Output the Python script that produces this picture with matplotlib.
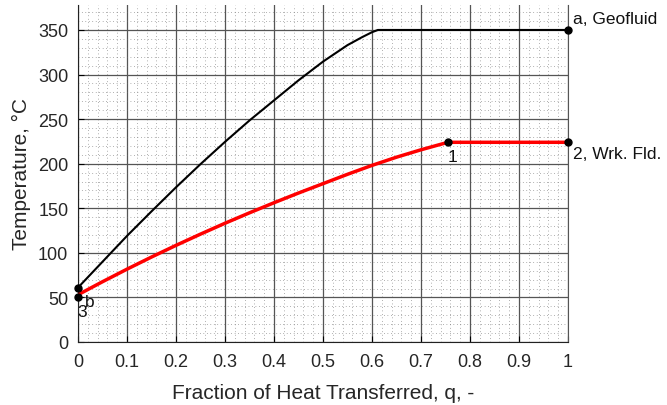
import matplotlib
matplotlib.use("Agg")
import matplotlib.pyplot as plt
from matplotlib.ticker import MultipleLocator

# Geofluid (hot side) curve
q_geo = [0.0, 0.05, 0.1, 0.15, 0.2, 0.25, 0.3, 0.35, 0.4, 0.45, 0.5, 0.55, 0.58, 0.6, 0.612, 1.0]
T_geo = [61, 90, 119, 146.5, 173.5, 199.5, 224.5, 248.5, 271, 293.5, 314.5, 333, 342, 347.5, 350, 350]

# Working fluid curve
q_wf = [0.0, 0.05, 0.1, 0.15, 0.2, 0.25, 0.3, 0.35, 0.4, 0.45, 0.5, 0.55, 0.6, 0.65, 0.7, 0.755, 1.0]
T_wf = [53, 67.6, 81.7, 95.3, 108.4, 121, 133.2, 144.9, 156.2, 167.1, 177.6, 188.1, 198.1, 207.3, 215.6, 224, 224]

# State points
pt_q = [0.0, 0.0, 0.755, 1.0, 1.0]
pt_T = [61, 51, 224, 224, 350]
pt_labels = ["b", "3", "1", "2, Wrk. Fld.", "a, Geofluid"]

xticks = [0, 0.1, 0.2, 0.3, 0.4, 0.5, 0.6, 0.7, 0.8, 0.9, 1]
xticklabels = ["0", "0.1", "0.2", "0.3", "0.4", "0.5", "0.6", "0.7", "0.8", "0.9", "1"]
yticks = [0, 50, 100, 150, 200, 250, 300, 350]

plt.rcParams['font.family'] = ['Liberation Sans', 'DejaVu Sans']

fig = plt.figure(figsize=(6.67, 4.06), dpi=100)
ax = fig.add_axes([78/667, 1-343/406, (568-78)/667, (343-6)/406])

ax.plot(q_geo, T_geo, color='black', lw=1.5, zorder=3)
ax.plot(q_wf, T_wf, color='red', lw=2.5, zorder=3)
ax.plot(pt_q, pt_T, 'o', color='black', ms=5, zorder=4, clip_on=False)

offsets = [(5, -13.2), (-0.5, -14.2), (0, -13.7), (3.5, -11.5), (3.5, 5)]
for x, y, lab, off in zip(pt_q, pt_T, pt_labels, offsets):
    ax.annotate(lab, (x, y), xytext=off, textcoords='offset points',
                fontsize=12.5, ha='left', va='baseline', color='#111111',
                annotation_clip=False)

ax.set_xlim(0, 1)
ax.set_ylim(0, 378)
ax.set_xticks(xticks)
ax.set_xticklabels(xticklabels)
ax.set_yticks(yticks)
ax.xaxis.set_minor_locator(MultipleLocator(0.02))
ax.yaxis.set_minor_locator(MultipleLocator(10))
ax.grid(which='major', color='#555555', lw=0.9)
ax.grid(which='minor', color='#666666', lw=0.5, linestyle=(0, (1, 4)))
ax.set_axisbelow(True)
ax.tick_params(which='both', direction='in', labelsize=13, labelcolor='#262626')
ax.tick_params(which='minor', length=0)
ax.tick_params(which='major', length=4)
ax.tick_params(axis='x', pad=8)
ax.tick_params(axis='y', pad=7)
ax.spines['top'].set_visible(False)
ax.spines['right'].set_color('#555555')
for s in ['left', 'bottom']:
    ax.spines[s].set_color('#222222')

ax.set_xlabel('Fraction of Heat Transferred, q, -', fontsize=15, color='#262626', labelpad=9)
ax.set_ylabel('Temperature, °C', fontsize=15, color='#262626', labelpad=5)

fig.savefig('out.png', dpi=100)
